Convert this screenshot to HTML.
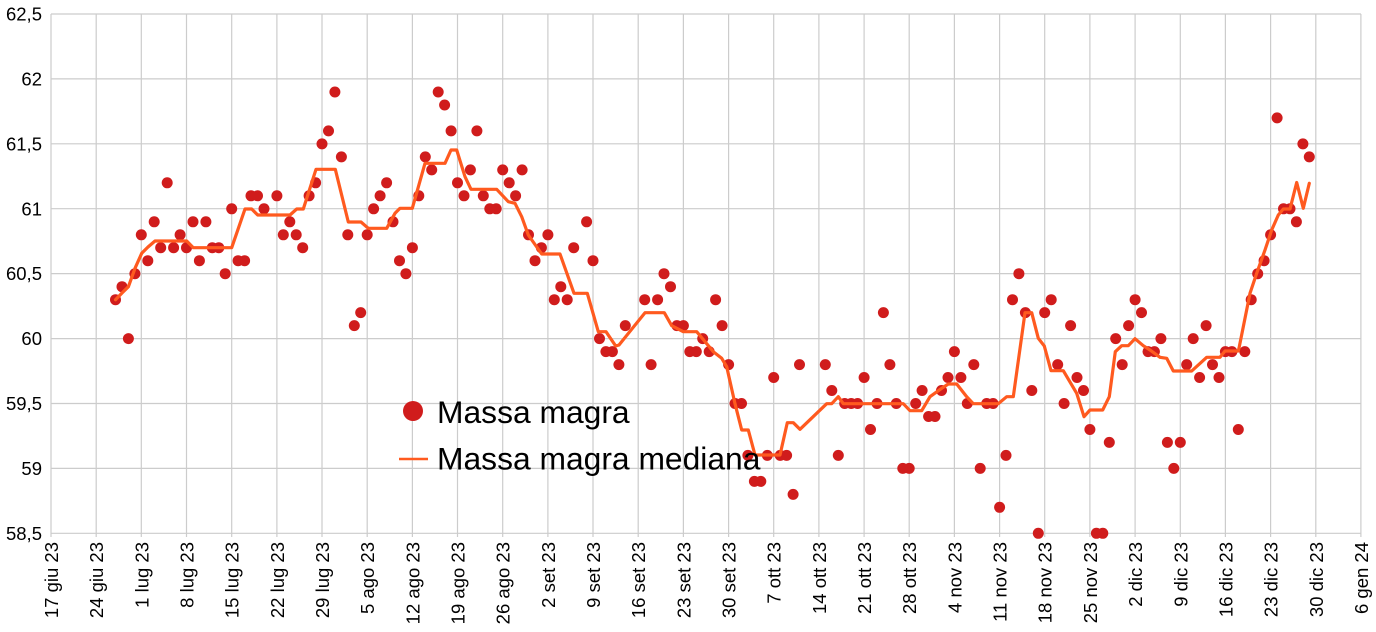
<!DOCTYPE html>
<html><head><meta charset="utf-8"><style>
html,body{margin:0;padding:0;background:#fff;}
svg{display:block;}
text{font-family:"Liberation Sans",Arial,sans-serif;fill:#000;}
</style></head><body>
<svg width="1376" height="632" viewBox="0 0 1376 632" xmlns="http://www.w3.org/2000/svg">
<rect width="1376" height="632" fill="#fff"/>
<g stroke="#cccccc" stroke-width="1.2" fill="none">
<path d="M51 14H1361M51 78.9H1361M51 143.8H1361M51 208.7H1361M51 273.6H1361M51 338.6H1361M51 403.5H1361M51 468.4H1361M51 533.3H1361"/>
<path d="M51 14V537M96.2 14V537M141.3 14V537M186.5 14V537M231.7 14V537M276.9 14V537M322 14V537M367.2 14V537M412.4 14V537M457.5 14V537M502.7 14V537M547.9 14V537M593 14V537M638.2 14V537M683.4 14V537M728.6 14V537M773.7 14V537M818.9 14V537M864.1 14V537M909.2 14V537M954.4 14V537M999.6 14V537M1044.7 14V537M1089.9 14V537M1135.1 14V537M1180.3 14V537M1225.4 14V537M1270.6 14V537M1315.8 14V537M1360.9 14V537"/>
</g>
<g font-size="18.5" text-anchor="end">
<text x="42" y="20.6">62,5</text>
<text x="42" y="85.5">62</text>
<text x="42" y="150.4">61,5</text>
<text x="42" y="215.3">61</text>
<text x="42" y="280.2">60,5</text>
<text x="42" y="345.2">60</text>
<text x="42" y="410.1">59,5</text>
<text x="42" y="475">59</text>
<text x="42" y="539.9">58,5</text>
</g>
<g font-size="18.5" text-anchor="end">
<text transform="translate(58,542) rotate(-90)">17 giu 23</text>
<text transform="translate(103.2,542) rotate(-90)">24 giu 23</text>
<text transform="translate(148.3,542) rotate(-90)">1 lug 23</text>
<text transform="translate(193.5,542) rotate(-90)">8 lug 23</text>
<text transform="translate(238.7,542) rotate(-90)">15 lug 23</text>
<text transform="translate(283.9,542) rotate(-90)">22 lug 23</text>
<text transform="translate(329,542) rotate(-90)">29 lug 23</text>
<text transform="translate(374.2,542) rotate(-90)">5 ago 23</text>
<text transform="translate(419.4,542) rotate(-90)">12 ago 23</text>
<text transform="translate(464.5,542) rotate(-90)">19 ago 23</text>
<text transform="translate(509.7,542) rotate(-90)">26 ago 23</text>
<text transform="translate(554.9,542) rotate(-90)">2 set 23</text>
<text transform="translate(600,542) rotate(-90)">9 set 23</text>
<text transform="translate(645.2,542) rotate(-90)">16 set 23</text>
<text transform="translate(690.4,542) rotate(-90)">23 set 23</text>
<text transform="translate(735.6,542) rotate(-90)">30 set 23</text>
<text transform="translate(780.7,542) rotate(-90)">7 ott 23</text>
<text transform="translate(825.9,542) rotate(-90)">14 ott 23</text>
<text transform="translate(871.1,542) rotate(-90)">21 ott 23</text>
<text transform="translate(916.2,542) rotate(-90)">28 ott 23</text>
<text transform="translate(961.4,542) rotate(-90)">4 nov 23</text>
<text transform="translate(1006.6,542) rotate(-90)">11 nov 23</text>
<text transform="translate(1051.7,542) rotate(-90)">18 nov 23</text>
<text transform="translate(1096.9,542) rotate(-90)">25 nov 23</text>
<text transform="translate(1142.1,542) rotate(-90)">2 dic 23</text>
<text transform="translate(1187.3,542) rotate(-90)">9 dic 23</text>
<text transform="translate(1232.4,542) rotate(-90)">16 dic 23</text>
<text transform="translate(1277.6,542) rotate(-90)">23 dic 23</text>
<text transform="translate(1322.8,542) rotate(-90)">30 dic 23</text>
<text transform="translate(1367.9,542) rotate(-90)">6 gen 24</text>
</g>
<g fill="#d01c1c">
<circle cx="115.5" cy="299.7" r="5.5"/><circle cx="122" cy="286.7" r="5.5"/><circle cx="128.4" cy="338.6" r="5.5"/><circle cx="134.9" cy="273.7" r="5.5"/><circle cx="141.3" cy="234.8" r="5.5"/><circle cx="147.8" cy="260.7" r="5.5"/><circle cx="154.2" cy="221.8" r="5.5"/><circle cx="160.7" cy="247.7" r="5.5"/><circle cx="167.2" cy="182.8" r="5.5"/><circle cx="173.6" cy="247.7" r="5.5"/><circle cx="180.1" cy="234.8" r="5.5"/><circle cx="186.5" cy="247.7" r="5.5"/><circle cx="193" cy="221.8" r="5.5"/><circle cx="199.4" cy="260.7" r="5.5"/><circle cx="205.9" cy="221.8" r="5.5"/><circle cx="212.3" cy="247.7" r="5.5"/><circle cx="218.8" cy="247.7" r="5.5"/><circle cx="225.2" cy="273.7" r="5.5"/><circle cx="231.7" cy="208.8" r="5.5"/><circle cx="238.1" cy="260.7" r="5.5"/><circle cx="244.6" cy="260.7" r="5.5"/><circle cx="251" cy="195.8" r="5.5"/><circle cx="257.5" cy="195.8" r="5.5"/><circle cx="264" cy="208.8" r="5.5"/>
<circle cx="276.9" cy="195.8" r="5.5"/><circle cx="283.3" cy="234.8" r="5.5"/><circle cx="289.8" cy="221.8" r="5.5"/><circle cx="296.2" cy="234.8" r="5.5"/><circle cx="302.7" cy="247.7" r="5.5"/><circle cx="309.1" cy="195.8" r="5.5"/><circle cx="315.6" cy="182.8" r="5.5"/><circle cx="322" cy="143.9" r="5.5"/><circle cx="328.5" cy="130.9" r="5.5"/><circle cx="334.9" cy="92" r="5.5"/><circle cx="341.4" cy="156.9" r="5.5"/><circle cx="347.8" cy="234.8" r="5.5"/><circle cx="354.3" cy="325.6" r="5.5"/><circle cx="360.7" cy="312.6" r="5.5"/><circle cx="367.2" cy="234.8" r="5.5"/><circle cx="373.6" cy="208.8" r="5.5"/><circle cx="380.1" cy="195.8" r="5.5"/><circle cx="386.6" cy="182.8" r="5.5"/><circle cx="393" cy="221.8" r="5.5"/><circle cx="399.5" cy="260.7" r="5.5"/><circle cx="405.9" cy="273.7" r="5.5"/><circle cx="412.4" cy="247.7" r="5.5"/><circle cx="418.8" cy="195.8" r="5.5"/><circle cx="425.3" cy="156.9" r="5.5"/><circle cx="431.7" cy="169.9" r="5.5"/><circle cx="438.2" cy="92" r="5.5"/><circle cx="444.6" cy="105" r="5.5"/><circle cx="451.1" cy="130.9" r="5.5"/><circle cx="457.5" cy="182.8" r="5.5"/><circle cx="464" cy="195.8" r="5.5"/><circle cx="470.4" cy="169.9" r="5.5"/><circle cx="476.9" cy="130.9" r="5.5"/><circle cx="483.3" cy="195.8" r="5.5"/><circle cx="489.8" cy="208.8" r="5.5"/><circle cx="496.2" cy="208.8" r="5.5"/><circle cx="502.7" cy="169.9" r="5.5"/><circle cx="509.2" cy="182.8" r="5.5"/><circle cx="515.6" cy="195.8" r="5.5"/><circle cx="522.1" cy="169.9" r="5.5"/><circle cx="528.5" cy="234.8" r="5.5"/><circle cx="535" cy="260.7" r="5.5"/><circle cx="541.4" cy="247.7" r="5.5"/><circle cx="547.9" cy="234.8" r="5.5"/><circle cx="554.3" cy="299.7" r="5.5"/><circle cx="560.8" cy="286.7" r="5.5"/><circle cx="567.2" cy="299.7" r="5.5"/><circle cx="573.7" cy="247.7" r="5.5"/>
<circle cx="586.6" cy="221.8" r="5.5"/><circle cx="593" cy="260.7" r="5.5"/><circle cx="599.5" cy="338.6" r="5.5"/><circle cx="605.9" cy="351.6" r="5.5"/><circle cx="612.4" cy="351.6" r="5.5"/><circle cx="618.9" cy="364.6" r="5.5"/><circle cx="625.3" cy="325.6" r="5.5"/>
<circle cx="644.7" cy="299.7" r="5.5"/><circle cx="651.1" cy="364.6" r="5.5"/><circle cx="657.6" cy="299.7" r="5.5"/><circle cx="664" cy="273.7" r="5.5"/><circle cx="670.5" cy="286.7" r="5.5"/><circle cx="676.9" cy="325.6" r="5.5"/><circle cx="683.4" cy="325.6" r="5.5"/><circle cx="689.8" cy="351.6" r="5.5"/><circle cx="696.3" cy="351.6" r="5.5"/><circle cx="702.7" cy="338.6" r="5.5"/><circle cx="709.2" cy="351.6" r="5.5"/><circle cx="715.6" cy="299.7" r="5.5"/><circle cx="722.1" cy="325.6" r="5.5"/><circle cx="728.6" cy="364.6" r="5.5"/><circle cx="735" cy="403.5" r="5.5"/><circle cx="741.5" cy="403.5" r="5.5"/><circle cx="747.9" cy="455.4" r="5.5"/><circle cx="754.4" cy="481.4" r="5.5"/><circle cx="760.8" cy="481.4" r="5.5"/><circle cx="767.3" cy="455.4" r="5.5"/><circle cx="773.7" cy="377.5" r="5.5"/><circle cx="780.2" cy="455.4" r="5.5"/><circle cx="786.6" cy="455.4" r="5.5"/><circle cx="793.1" cy="494.4" r="5.5"/><circle cx="799.5" cy="364.6" r="5.5"/>
<circle cx="825.3" cy="364.6" r="5.5"/><circle cx="831.8" cy="390.5" r="5.5"/><circle cx="838.3" cy="455.4" r="5.5"/><circle cx="844.7" cy="403.5" r="5.5"/><circle cx="851.2" cy="403.5" r="5.5"/><circle cx="857.6" cy="403.5" r="5.5"/><circle cx="864.1" cy="377.5" r="5.5"/><circle cx="870.5" cy="429.5" r="5.5"/><circle cx="877" cy="403.5" r="5.5"/><circle cx="883.4" cy="312.6" r="5.5"/><circle cx="889.9" cy="364.6" r="5.5"/><circle cx="896.3" cy="403.5" r="5.5"/><circle cx="902.8" cy="468.4" r="5.5"/><circle cx="909.2" cy="468.4" r="5.5"/><circle cx="915.7" cy="403.5" r="5.5"/><circle cx="922.1" cy="390.5" r="5.5"/><circle cx="928.6" cy="416.5" r="5.5"/><circle cx="935" cy="416.5" r="5.5"/><circle cx="941.5" cy="390.5" r="5.5"/><circle cx="948" cy="377.5" r="5.5"/><circle cx="954.4" cy="351.6" r="5.5"/><circle cx="960.9" cy="377.5" r="5.5"/><circle cx="967.3" cy="403.5" r="5.5"/><circle cx="973.8" cy="364.6" r="5.5"/><circle cx="980.2" cy="468.4" r="5.5"/><circle cx="986.7" cy="403.5" r="5.5"/><circle cx="993.1" cy="403.5" r="5.5"/><circle cx="999.6" cy="507.3" r="5.5"/><circle cx="1006" cy="455.4" r="5.5"/><circle cx="1012.5" cy="299.7" r="5.5"/><circle cx="1018.9" cy="273.7" r="5.5"/><circle cx="1025.4" cy="312.6" r="5.5"/><circle cx="1031.8" cy="390.5" r="5.5"/><circle cx="1038.3" cy="533.3" r="5.5"/><circle cx="1044.7" cy="312.6" r="5.5"/><circle cx="1051.2" cy="299.7" r="5.5"/><circle cx="1057.7" cy="364.6" r="5.5"/><circle cx="1064.1" cy="403.5" r="5.5"/><circle cx="1070.6" cy="325.6" r="5.5"/><circle cx="1077" cy="377.5" r="5.5"/><circle cx="1083.5" cy="390.5" r="5.5"/><circle cx="1089.9" cy="429.5" r="5.5"/><circle cx="1096.4" cy="533.3" r="5.5"/><circle cx="1102.8" cy="533.3" r="5.5"/><circle cx="1109.3" cy="442.4" r="5.5"/><circle cx="1115.7" cy="338.6" r="5.5"/><circle cx="1122.2" cy="364.6" r="5.5"/><circle cx="1128.6" cy="325.6" r="5.5"/><circle cx="1135.1" cy="299.7" r="5.5"/><circle cx="1141.5" cy="312.6" r="5.5"/><circle cx="1148" cy="351.6" r="5.5"/><circle cx="1154.4" cy="351.6" r="5.5"/><circle cx="1160.9" cy="338.6" r="5.5"/><circle cx="1167.4" cy="442.4" r="5.5"/><circle cx="1173.8" cy="468.4" r="5.5"/><circle cx="1180.3" cy="442.4" r="5.5"/><circle cx="1186.7" cy="364.6" r="5.5"/><circle cx="1193.2" cy="338.6" r="5.5"/><circle cx="1199.6" cy="377.5" r="5.5"/><circle cx="1206.1" cy="325.6" r="5.5"/><circle cx="1212.5" cy="364.6" r="5.5"/><circle cx="1219" cy="377.5" r="5.5"/><circle cx="1225.4" cy="351.6" r="5.5"/><circle cx="1231.9" cy="351.6" r="5.5"/><circle cx="1238.3" cy="429.5" r="5.5"/><circle cx="1244.8" cy="351.6" r="5.5"/><circle cx="1251.2" cy="299.7" r="5.5"/><circle cx="1257.7" cy="273.7" r="5.5"/><circle cx="1264.1" cy="260.7" r="5.5"/><circle cx="1270.6" cy="234.8" r="5.5"/><circle cx="1277.1" cy="117.9" r="5.5"/><circle cx="1283.5" cy="208.8" r="5.5"/><circle cx="1290" cy="208.8" r="5.5"/><circle cx="1296.4" cy="221.8" r="5.5"/><circle cx="1302.9" cy="143.9" r="5.5"/><circle cx="1309.3" cy="156.9" r="5.5"/>
</g>
<polyline fill="none" stroke="#ff5a1f" stroke-width="3.2" stroke-linejoin="round" stroke-linecap="round" points="115.5,299.7 122,293 128.4,286.7 135,268.3 141.7,253.3 148,247 155,241 186.7,241 193.3,247.7 231.7,247.7 245,209 251.7,209 257.7,215 290,215 296.7,209 303.3,209 316,169.3 335.3,169.3 348.3,222 361,222 368.3,228.3 386.7,228.3 395,213.3 400,208.3 412.3,208.3 425,163.3 445,163.3 451,150 456.7,150 465,176.7 471,189.3 496.7,189.3 508.3,201.7 515,203.3 521.7,216.7 528.3,235 541.7,254 560,254 574,293.3 587.3,293.3 598.3,331.7 606,331.7 615.7,346 619,345 645,312.7 664.3,312.7 671.7,325.7 683.3,331.7 696.7,331.7 702,338 713.3,351.7 721.7,358.3 726.7,366.7 735,403.7 741.7,430 748.3,430 755,455 780,455 787.3,422.7 793.3,422.7 800,429.3 826.7,403.7 831.7,403.7 838.3,396.7 843.3,403.7 903.3,403.7 910,410.7 921.7,410.7 930,396.7 941.7,388.3 948.3,384 956.7,384 966.7,396.7 973.3,403.7 998.3,403.7 1006.7,396.7 1013.3,396.7 1025,312.7 1031.7,312.7 1038.3,338.3 1044.3,346 1051,370.7 1063.3,370.7 1076.7,393.3 1084,416.7 1090,410 1102.7,410 1109.3,396.7 1115.3,351.7 1121.7,345.7 1128.3,345.7 1135,338.7 1143.3,345.7 1150,350 1160,357.3 1166.7,358.3 1173.3,371 1191.7,371 1206.7,357.3 1220,357.3 1225,351 1238.3,351 1239.3,346.7 1250,293.3 1256.7,273.3 1265,250 1271.7,230 1278.3,215 1283.3,209 1290,209 1296.7,182.5 1303.3,208.3 1309.3,183.3"/>
<circle cx="413" cy="411" r="10" fill="#d01c1c"/>
<line x1="399" y1="459" x2="428" y2="459" stroke="#ff5a1f" stroke-width="2.5"/>
<text x="437" y="423" font-size="31.8">Massa magra</text>
<text x="437" y="469.3" font-size="31.8">Massa magra mediana</text>
</svg>
</body></html>
